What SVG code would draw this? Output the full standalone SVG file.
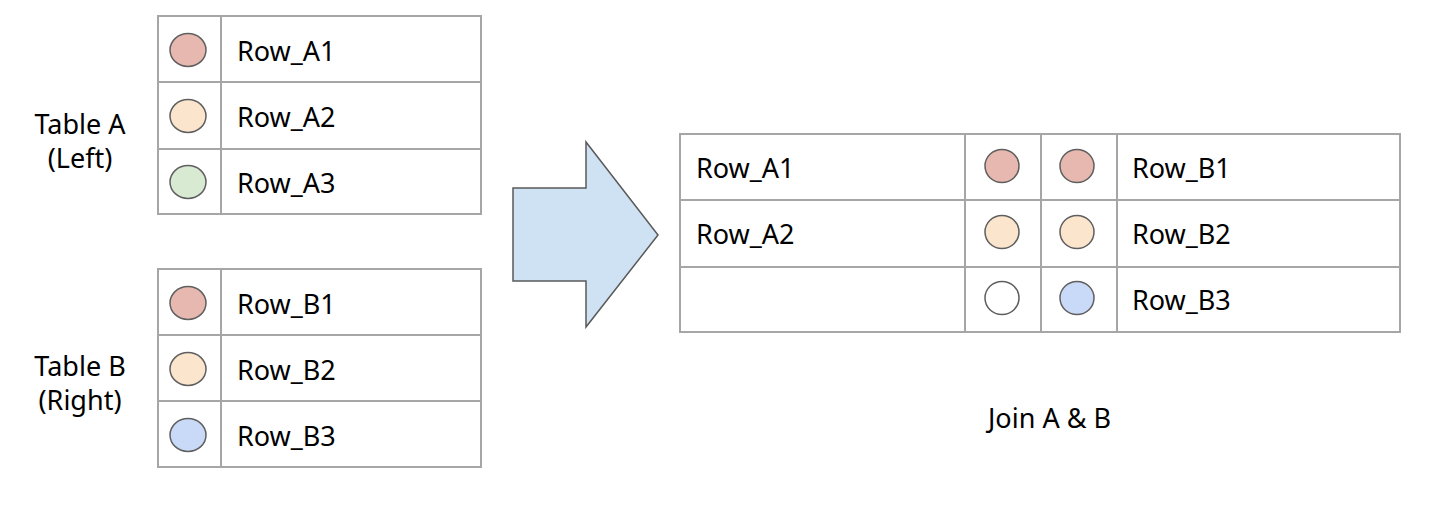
<svg xmlns="http://www.w3.org/2000/svg" width="1452" height="510" viewBox="0 0 1452 510">
<style>
.grid{fill:none;stroke:#a6a6a6;stroke-width:2}
.t{font-family:"Noto Sans","Open Sans",sans-serif;font-size:27px;fill:#000}
.c{stroke:#5f5f5f;stroke-width:1.5}
.red{fill:#e6b8af}.peach{fill:#fce5cd}.green{fill:#d9ead3}.blue{fill:#c9daf8}.white{fill:#fff}
</style>
<rect width="1452" height="510" fill="#fff"/>
<g id="labelA">
<text class="t" x="80" y="134" text-anchor="middle">Table A</text>
<text class="t" x="80" y="168" text-anchor="middle">(Left)</text>
</g>
<g id="labelB">
<text class="t" x="80" y="376" text-anchor="middle">Table B</text>
<text class="t" x="80" y="410" text-anchor="middle">(Right)</text>
</g>
<g id="tableA">
<rect class="grid" x="158" y="16" width="323" height="198"/>
<line class="grid" x1="221" y1="16" x2="221" y2="214"/>
<line class="grid" x1="158" y1="82" x2="481" y2="82"/>
<line class="grid" x1="158" y1="149" x2="481" y2="149"/>
<ellipse class="c red" cx="188" cy="50" rx="18" ry="16.5"/>
<ellipse class="c peach" cx="188" cy="116" rx="18" ry="16.5"/>
<ellipse class="c green" cx="188" cy="182" rx="18" ry="16.5"/>
<text class="t" x="237" y="61">Row_A1</text>
<text class="t" x="237" y="127">Row_A2</text>
<text class="t" x="237" y="193">Row_A3</text>
</g>
<g id="tableB">
<rect class="grid" x="158" y="269" width="323" height="198"/>
<line class="grid" x1="221" y1="269" x2="221" y2="467"/>
<line class="grid" x1="158" y1="335" x2="481" y2="335"/>
<line class="grid" x1="158" y1="401" x2="481" y2="401"/>
<ellipse class="c red" cx="188" cy="303" rx="18" ry="16.5"/>
<ellipse class="c peach" cx="188" cy="369" rx="18" ry="16.5"/>
<ellipse class="c blue" cx="188" cy="435" rx="18" ry="16.5"/>
<text class="t" x="237" y="314">Row_B1</text>
<text class="t" x="237" y="380">Row_B2</text>
<text class="t" x="237" y="446">Row_B3</text>
</g>
<g id="connectors">
<polygon points="513,188 586,188 586,142 658,235 586,327 586,281 513,281" fill="#cfe2f3" stroke="#595959" stroke-width="1.5"/>
</g>
<g id="joined">
<rect class="grid" x="680" y="134" width="720" height="198"/>
<line class="grid" x1="965" y1="134" x2="965" y2="332"/>
<line class="grid" x1="1041" y1="134" x2="1041" y2="332"/>
<line class="grid" x1="1117" y1="134" x2="1117" y2="332"/>
<line class="grid" x1="680" y1="200" x2="1400" y2="200"/>
<line class="grid" x1="680" y1="267" x2="1400" y2="267"/>
<ellipse class="c red" cx="1002" cy="166" rx="17" ry="16.5"/>
<ellipse class="c peach" cx="1002" cy="232" rx="17" ry="16.5"/>
<ellipse class="c white" cx="1002" cy="298" rx="17" ry="16.5"/>
<ellipse class="c red" cx="1077" cy="166" rx="17" ry="16.5"/>
<ellipse class="c peach" cx="1077" cy="232" rx="17" ry="16.5"/>
<ellipse class="c blue" cx="1077" cy="298" rx="17" ry="16.5"/>
<text class="t" x="696" y="178">Row_A1</text>
<text class="t" x="696" y="244">Row_A2</text>
<text class="t" x="1132" y="178">Row_B1</text>
<text class="t" x="1132" y="244">Row_B2</text>
<text class="t" x="1132" y="310">Row_B3</text>
</g>
<g id="joinLabel">
<text class="t" x="988" y="428">Join A &amp; B</text>
</g>
</svg>
